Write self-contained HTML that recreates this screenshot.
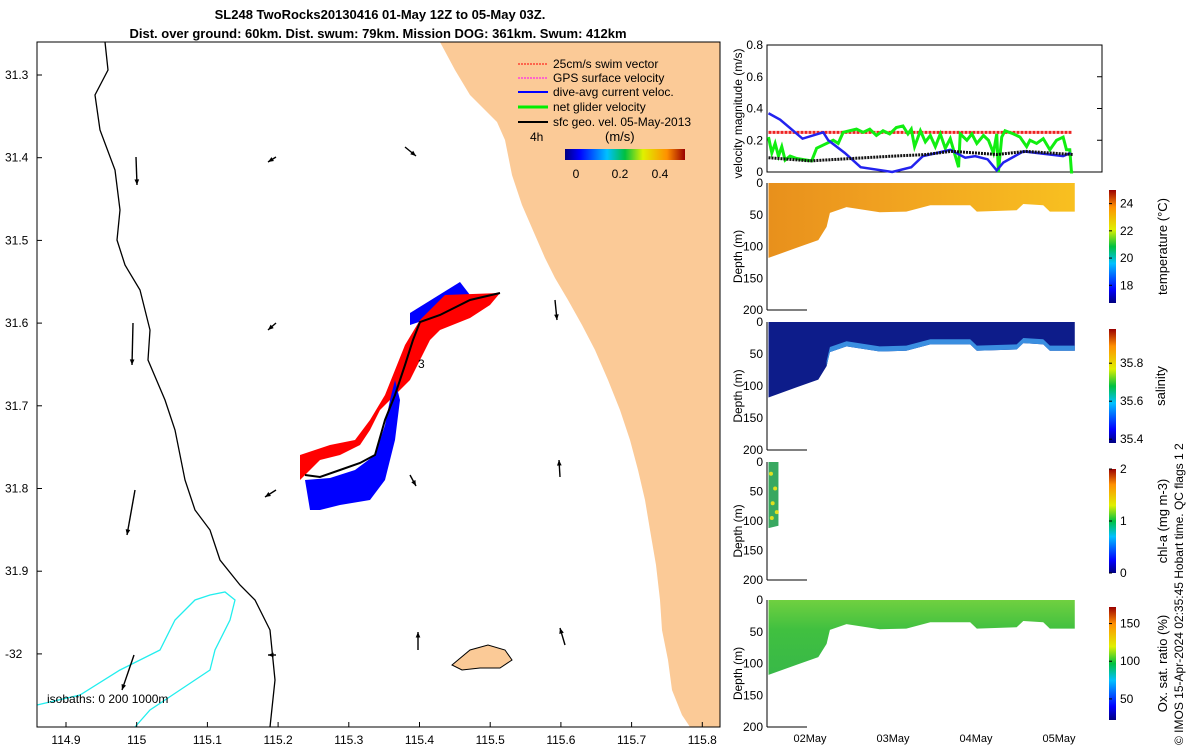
<!DOCTYPE html>
<html><head><meta charset="utf-8"><style>
body{margin:0;background:#fff;}
svg text{font-family:"Liberation Sans",sans-serif;}
</style></head><body>
<svg id="s" width="1200" height="750" viewBox="0 0 1200 750" xmlns="http://www.w3.org/2000/svg">
<defs>
<linearGradient id="jet" x1="0" y1="1" x2="0" y2="0">
<stop offset="0" stop-color="#00007f"/><stop offset="0.12" stop-color="#0000ff"/><stop offset="0.35" stop-color="#00c0ff"/><stop offset="0.5" stop-color="#00c040"/><stop offset="0.65" stop-color="#e0f000"/><stop offset="0.85" stop-color="#ff9000"/><stop offset="1" stop-color="#9a0000"/></linearGradient>
<linearGradient id="jeth" x1="0" y1="0" x2="1" y2="0">
<stop offset="0" stop-color="#00007f"/><stop offset="0.12" stop-color="#0000ff"/><stop offset="0.35" stop-color="#00c0ff"/><stop offset="0.5" stop-color="#00c040"/><stop offset="0.65" stop-color="#e0f000"/><stop offset="0.85" stop-color="#ff9000"/><stop offset="1" stop-color="#9a0000"/></linearGradient>
<linearGradient id="tgrad" x1="0" y1="0" x2="1" y2="0"><stop offset="0" stop-color="#e8901c"/><stop offset="0.35" stop-color="#f0a020"/><stop offset="1" stop-color="#f8c020"/></linearGradient>
<linearGradient id="ograd" x1="0" y1="0" x2="0" y2="1"><stop offset="0" stop-color="#70d040"/><stop offset="0.4" stop-color="#40c040"/><stop offset="1" stop-color="#38b848"/></linearGradient>
</defs>
<text x="380" y="19" font-size="13" font-weight="bold" text-anchor="middle">SL248 TwoRocks20130416 01-May 12Z to 05-May 03Z.</text>
<text x="378" y="38" font-size="13" font-weight="bold" text-anchor="middle">Dist. over ground: 60km. Dist. swum: 79km. Mission DOG: 361km. Swum: 412km</text>
<g id="map">
<rect x="37" y="42" width="683" height="685" fill="#fff" stroke="none"/>
<polygon fill="#fbca97" points="440,42 720,42 720,727 690,727 682,715 672,690 668,660 662,630 660,600 656,565 650,530 645,500 638,470 630,440 620,410 608,380 595,350 582,325 568,300 555,278 545,258 535,235 522,205 512,175 505,140 497,122 487,112 470,95 455,70"/>
<polygon fill="#fbca97" stroke="#000" stroke-width="1" points="452,665 470,650 488,645 505,650 512,660 500,668 480,668 462,670"/>
<polyline fill="none" stroke="#000" stroke-width="1.3" points="105,42 108,70 95,95 100,130 115,170 120,210 117,240 125,265 140,290 150,330 148,360 165,400 175,430 185,480 195,510 210,530 220,560 240,585 255,600 270,630 275,680 270,727"/>
<polyline fill="none" stroke="#2ee" stroke-width="1.3" points="37,705 80,695 120,670 160,650 175,620 195,600 210,595 225,592 235,600 230,620 215,650 210,670 180,690 150,710 135,727"/>
<g id="arrows"></g>
<g id="track"></g>
<rect x="37" y="42" width="683" height="685" fill="none" stroke="#000" stroke-width="1"/>
<g id="mapaxes" font-size="12"></g>
<text x="47" y="703" font-size="12">isobaths: 0   200  1000m</text>
<g font-size="12">
<line x1="518" y1="64" x2="548" y2="64" stroke="red" stroke-dasharray="2,1"/><text x="553" y="68">25cm/s swim vector</text>
<line x1="518" y1="78" x2="548" y2="78" stroke="#f0f" stroke-dasharray="2,1"/><text x="553" y="82">GPS surface velocity</text>
<line x1="518" y1="92" x2="548" y2="92" stroke="#00f" stroke-width="2"/><text x="553" y="96">dive-avg current veloc.</text>
<line x1="518" y1="107" x2="548" y2="107" stroke="#0e0" stroke-width="3"/><text x="553" y="111">net glider velocity</text>
<line x1="518" y1="122" x2="548" y2="122" stroke="#000" stroke-width="2"/><text x="553" y="126">sfc geo. vel. 05-May-2013</text>
<text x="530" y="141">4h</text><text x="605" y="141" font-size="13">(m/s)</text>
<rect x="565" y="149" width="120" height="11" fill="url(#jeth)"/>
<text x="576" y="178" text-anchor="middle">0</text><text x="620" y="178" text-anchor="middle">0.2</text><text x="660" y="178" text-anchor="middle">0.4</text>
</g>
<text x="418" y="368" font-size="12">3</text>
</g>
<g id="vel"></g>
<g id="sec"></g>
<text transform="translate(1183,745) rotate(-90)" font-size="12">© IMOS 15-Apr-2024 02:35:45 Hobart time. QC flags 1  2</text>
</svg>
<script>
// ---- velocity data (t = days since 01-May 00Z) ----
const blueT=[0.5,0.64,0.91,1.16,1.22,1.42,1.61,1.99,2.22,2.36,2.69,2.87,2.99,3.14,3.25,3.33,3.57,4.05,4.14];
const blueV=[0.37,0.33,0.21,0.25,0.2,0.12,0.03,0,0.03,0.1,0.14,0.09,0.1,0.08,0.01,0.06,0.13,0.1,0.12];
const blackT=[0.5,1.0,1.5,2.0,2.4,2.7,3.0,3.25,3.6,4.17];
const blackV=[0.09,0.07,0.085,0.1,0.11,0.13,0.12,0.11,0.13,0.11];
const greenT=[0.5,0.54,0.58,0.62,0.66,0.7,0.76,0.84,0.96,1.02,1.08,1.2,1.28,1.34,1.4,1.56,1.64,1.72,1.8,1.88,1.96,2.04,2.12,2.18,2.22,2.26,2.33,2.39,2.45,2.51,2.57,2.63,2.69,2.79,2.81,2.89,2.95,3.01,3.09,3.15,3.21,3.25,3.27,3.31,3.35,3.45,3.53,3.61,3.65,3.73,3.81,3.89,3.97,4.05,4.09,4.13,4.15,4.17];
const greenV=[0.22,0.12,0.18,0.1,0.16,0.075,0.1,0.085,0.075,0.07,0.15,0.18,0.2,0.18,0.25,0.27,0.25,0.27,0.23,0.26,0.24,0.28,0.29,0.24,0.27,0.16,0.26,0.19,0.23,0.16,0.24,0.15,0.21,0.03,0.24,0.2,0.24,0.18,0.23,0.2,0.12,0.24,0,0.22,0.26,0.24,0.22,0.16,0.2,0.18,0.21,0.14,0.2,0.22,0.14,0.14,0,0];
const swimT=[0.5,4.15]; const swimV=[0.25,0.25];
const velTicks=[0,0.2,0.4,0.6,0.8];
const dayTicks=[1,2,3,4]; const dayLabels=["02May","03May","04May","05May"];
// ---- section bottom-depth profile ----
const profT=[0.5,0.84,1.1,1.2,1.24,1.44,1.84,2.16,2.45,2.93,3.01,3.49,3.57,3.81,3.89,4.19];
const profD=[118,102,90,69,47,38,46,45,35,35,45,43,33,35,45,45];
const depthTicks=[0,50,100,150,200];
const tempTicks=[24,22,20,18]; const salTicks=[35.8,35.6,35.4]; const chlTicks=[2,1,0]; const oxTicks=[150,100,50];
const lonTicks=[114.9,115,115.1,115.2,115.3,115.4,115.5,115.6,115.7,115.8];
const latTicks=[31.3,31.4,31.5,31.6,31.7,31.8,31.9,32];

const NS="http://www.w3.org/2000/svg";
function mk(tag,attrs,parent){const e=document.createElementNS(NS,tag);for(const k in attrs)e.setAttribute(k,attrs[k]);parent.appendChild(e);return e;}
const X0=767,X1=1102;
const tx=t=>727+t*83;
// velocity
const vel=document.getElementById('vel');
const vTop=45,vBot=172; const vy=v=>vBot-(v/0.8)*(vBot-vTop);
mk('rect',{x:X0,y:vTop,width:X1-X0,height:vBot-vTop,fill:'#fff',stroke:'#000'},vel);
velTicks.forEach(v=>{const t=mk('text',{x:X0-4,y:vy(v)+4,'font-size':12,'text-anchor':'end'},vel);t.textContent=v;mk('line',{x1:X1,x2:X1-5,y1:vy(v),y2:vy(v),stroke:'#000'},vel);});
const yl=mk('text',{transform:`translate(742,${(vTop+vBot)/2+5}) rotate(-90)`,'font-size':12,'text-anchor':'middle'},vel);yl.textContent='velocity magnitude (m/s)';


function line(T,V,col,w,dash,name){const p=mk('polyline',{points:T.map((t,i)=>tx(t)+','+vy(V[i])).join(' '),fill:'none',stroke:col,'stroke-width':w},vel);if(dash)p.setAttribute('stroke-dasharray',dash);

}
line(swimT,swimV,'#e22',3,'3,1','swim-speed-line');
line(greenT,greenV,'#1e1',3,null,'net-glider-velocity-line');
line(blueT,blueV,'#22e',2.5,null,'dive-avg-current-line');
line(blackT,blackV,'#111',3,'2,1','sfc-geo-velocity-line');
// sections
const sec=document.getElementById('sec');
const panels=[{top:183,bot:310,fill:'url(#tgrad)',ticks:tempTicks,min:16.7,max:25,label:'temperature (°C)',name:'temperature'},
{top:322,bot:450,fill:'#0d1c8a',ticks:salTicks,min:35.38,max:35.98,label:'salinity',name:'salinity'},
{top:462,bot:580,fill:'#38a860',ticks:chlTicks,min:0,max:2,label:'chl-a (mg m-3)',name:'chl-a',chl:true},
{top:600,bot:727,fill:'url(#ograd)',ticks:oxTicks,min:22,max:172,label:'Ox. sat. ratio (%)',name:'oxygen'}];
panels.forEach((p,pi)=>{
 const g=mk('g',{},sec);
 const dy=d=>p.top+d/200*(p.bot-p.top);
 let T=profT,D=profD;
 if(p.chl){T=[0.5,0.62];D=[112,108];}
 const pts=[tx(T[0])+','+dy(0)];T.forEach((t,i)=>pts.push(tx(t)+','+dy(D[i])));pts.push(tx(T[T.length-1])+','+dy(0));
 const poly=mk('polygon',{points:pts.join(' '),fill:p.fill},g);
 
 
 if(pi==1){const pts2=[];for(let i=3;i<T.length;i++)pts2.push(tx(T[i])+','+dy(D[i]-8));for(let i=T.length-1;i>=3;i--)pts2.push(tx(T[i])+','+dy(D[i]));mk('polygon',{points:pts2.join(' '),fill:'#3a8ee0'},g);}
 if(p.chl){[[0.53,20],[0.58,45],[0.55,70],[0.6,85],[0.54,95]].forEach(c=>mk('circle',{cx:tx(c[0]),cy:dy(c[1]),r:2,fill:'#e0e020'},g));}
 mk('line',{x1:X0,x2:X0,y1:p.top,y2:p.bot,stroke:'#000'},g);
 mk('line',{x1:X0,x2:X0+40,y1:p.bot,y2:p.bot,stroke:'#000'},g);
 depthTicks.forEach(d=>{const t=mk('text',{x:X0-4,y:dy(d)+4,'font-size':12,'text-anchor':'end'},g);t.textContent=d;});
 const yt=mk('text',{transform:`translate(742,${(p.top+p.bot)/2+10}) rotate(-90)`,'font-size':12,'text-anchor':'middle'},g);yt.textContent='Depth (m)';
 const ct=p.top+7,cb=p.bot-7;
 const cbr=mk('rect',{x:1109,y:ct,width:7,height:cb-ct,fill:'url(#jet)'},g);
 
 
 p.ticks.forEach(v=>{const y=cb-(v-p.min)/(p.max-p.min)*(cb-ct);mk('line',{x1:1109,x2:1112,y1:y,y2:y,stroke:'#000'},g);const t=mk('text',{x:1120,y:y+4,'font-size':12},g);t.textContent=v;});
 const cl=mk('text',{transform:`translate(${pi==1?1165:1167},${(p.top+p.bot)/2}) rotate(-90)`,'font-size':13,'text-anchor':'middle'},g);cl.textContent=p.label;
});
dayTicks.forEach((d,i)=>{const t=mk('text',{x:tx(d),y:742,'font-size':11,'text-anchor':'middle'},sec);t.textContent=dayLabels[i];

});
// map axes
const ma=document.getElementById('mapaxes');
const lx=l=>66+(l-114.9)/0.1*70.7, ly=l=>75+(l-31.3)/0.1*82.7;
lonTicks.forEach(l=>{const t=mk('text',{x:lx(l),y:744,'text-anchor':'middle','font-size':12},ma);t.textContent=(Math.round(l*10)/10).toString();mk('line',{x1:lx(l),x2:lx(l),y1:727,y2:722,stroke:'#000'},ma);});
latTicks.forEach(l=>{const t=mk('text',{x:5,y:ly(l)+4,'font-size':12},ma);t.textContent=l==32?'-32':l.toFixed(1);mk('line',{x1:37,x2:42,y1:ly(l),y2:ly(l),stroke:'#000'},ma);});
// current arrows (start, end in map pixels)
const arrows=[[136,157,137,185],[133,323,132,365],[135,490,127,535],[134,655,122,690],[276,157,268,162],[276,323,268,330],[276,490,265,497],[276,655,268,655],[405,147,416,156],[555,300,557,320],[410,475,416,486],[560,477,559,460],[418,650,418,632],[565,645,560,628]];
const ag=document.getElementById('arrows');
arrows.forEach(a=>{const[x1,y1,x2,y2]=a;const ang=Math.atan2(y2-y1,x2-x1);const h=6;
 mk('line',{x1,y1,x2,y2,stroke:'#000','stroke-width':1.4},ag);
 mk('polygon',{points:`${x2},${y2} ${x2-h*Math.cos(ang-0.4)},${y2-h*Math.sin(ang-0.4)} ${x2-h*Math.cos(ang+0.4)},${y2-h*Math.sin(ang+0.4)}`,fill:'#000'},ag);});
// track
const tg=document.getElementById('track');
mk('polygon',{points:'410,313 460,282 470,295 425,320 410,325',fill:'#00f'},tg);
mk('polygon',{points:'420,320 445,295 500,293 490,305 470,318 440,330 430,340 420,360 410,380 395,395 380,410 370,430 360,445 340,455 320,460 310,470 300,480 300,455 330,445 355,440 370,420 385,395 395,370 405,345',fill:'#f00'},tg);
mk('polygon',{points:'395,380 400,400 395,440 385,480 370,500 340,505 320,510 310,510 305,480 330,478 355,470 375,455 385,425 390,400',fill:'#00f'},tg);
mk('polyline',{points:'305,475 320,477 340,470 360,463 375,455 385,420 395,395 405,365 413,340 420,322 440,315 470,300 500,293',fill:'none',stroke:'#000','stroke-width':2},tg);
</script>
</body></html>
